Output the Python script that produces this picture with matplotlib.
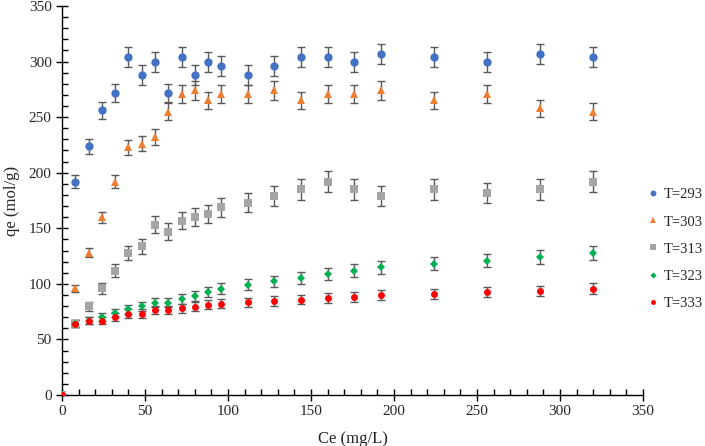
import matplotlib
matplotlib.use("Agg")
import matplotlib.pyplot as plt
from matplotlib.ticker import MultipleLocator

plt.rcParams['font.family'] = ['Liberation Serif', 'DejaVu Serif']

ce = [0, 8, 16, 24, 32, 40, 48, 56, 64, 72, 80, 88, 96, 112, 128, 144,
      160, 176, 192, 224, 256, 288, 320]

q293 = [0, 192, 224, 256, 272, 304, 288, 300, 272, 304, 288, 300, 296, 288, 296, 304,
        304, 300, 307, 304, 300, 307, 304]
q303 = [0, 96, 128, 160, 192, 223, 226, 232, 255, 271, 274, 265, 271, 271, 274, 265,
        271, 271, 274, 265, 271, 258, 255]
q313 = [0, 64, 80, 96, 112, 128, 134, 153, 147, 157, 160, 163, 169, 173, 179, 185,
        192, 185, 179, 185, 182, 185, 192]
q323 = [0, 64, 67, 70, 74, 77, 80, 83, 83, 86.5, 89.5, 92.7, 95.8, 99, 102.3, 105.6,
        108.6, 112, 115, 118, 121, 124.5, 127.8]
q333 = [0, 64, 67, 67, 70, 73.3, 73.3, 76.6, 76.6, 78, 79.6, 81, 82.3, 83.5, 84.7, 85.9,
        87, 88, 89.8, 91, 92.5, 93.7, 95.8]

err_frac = [0.03, 0.03, 0.05, 0.05, 0.05]
labels = ["T=293", "T=303", "T=313", "T=323", "T=333"]
colors = ["#4472C4", "#ED7D31", "#A5A5A5", "#00B050", "#FF0000"]
markers = ["o", "^", "s", "D", "o"]
msizes = [6, 6, 6, 4.5, 5]

fig = plt.figure(figsize=(7.05, 4.46), dpi=100)
ax = fig.add_axes([62/705, 51/446, (643-62)/705, (395-6)/446])

series = [q293, q303, q313, q323, q333]
handles = []
for s, ef, lab, c, m, ms in zip(series, err_frac, labels, colors, markers, msizes):
    yerr = [v * ef for v in s]
    ax.errorbar(ce, s, yerr=yerr, fmt='none', ecolor='#595959', elinewidth=1.0,
                capsize=3, capthick=1.0, zorder=2)
    h = ax.plot(ce, s, linestyle='none', marker=m, color=c, markersize=ms,
                markeredgewidth=0, label=lab, zorder=3)[0]
    handles.append(h)

ax.set_xlim(0, 350)
ax.set_ylim(0, 350)
ax.xaxis.set_major_locator(MultipleLocator(50))
ax.xaxis.set_minor_locator(MultipleLocator(10))
ax.yaxis.set_major_locator(MultipleLocator(50))
ax.yaxis.set_minor_locator(MultipleLocator(10))
ax.tick_params(which='major', direction='inout', length=8, width=1, labelsize=11,
               color='black', labelcolor='#262626', labelfontfamily='Liberation Serif')
ax.tick_params(which='minor', direction='in', length=4, width=1, color='black')
ax.spines['top'].set_visible(False)
ax.spines['right'].set_visible(False)
for sp in ['left', 'bottom']:
    ax.spines[sp].set_linewidth(1)
ax.set_xlabel("Ce (mg/L)", fontsize=12, color='#262626', labelpad=9)
ax.set_ylabel("qe (mol/g)", fontsize=12, color='#262626', labelpad=6)

leg = fig.legend(handles=handles, labels=labels, loc='center left',
                 bbox_to_anchor=(648/705, 1 - 249/446), frameon=False, fontsize=10.5,
                 handlelength=0.7, handletextpad=0.4, labelspacing=0.95,
                 markerscale=0.7, borderaxespad=0, borderpad=0)
for t in leg.get_texts():
    t.set_color('#262626')

fig.savefig("out.png", dpi=100)
